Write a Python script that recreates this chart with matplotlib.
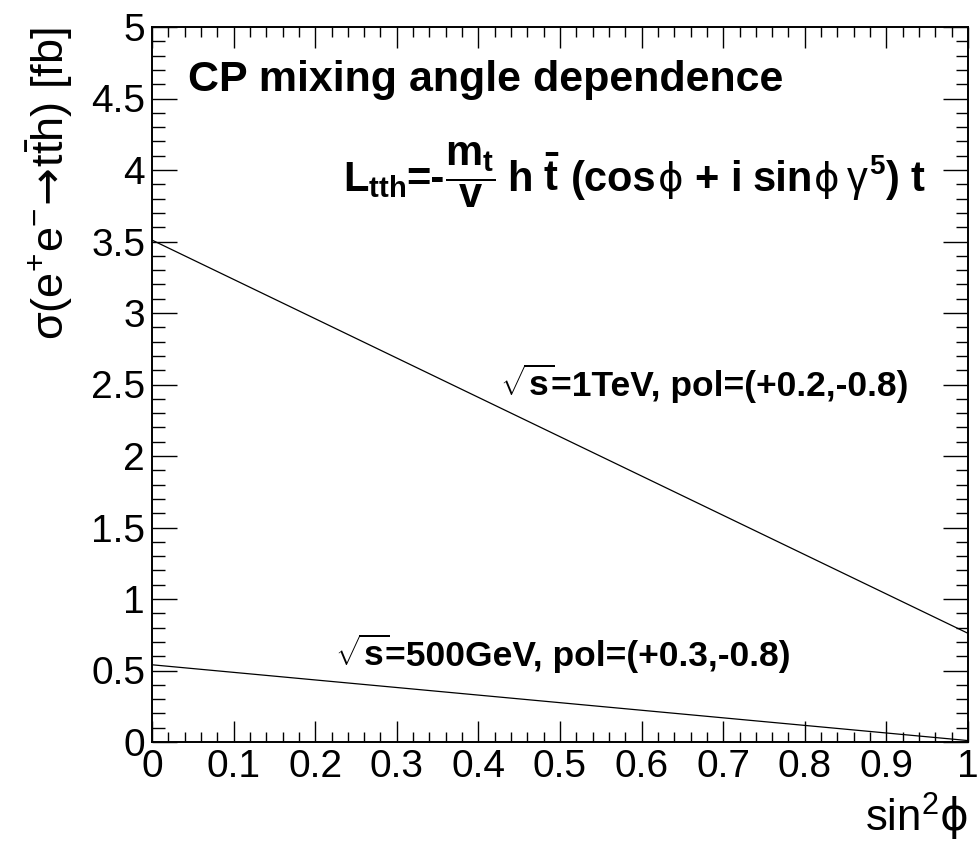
import matplotlib
matplotlib.use("Agg")
import matplotlib.pyplot as plt
from matplotlib.ticker import MultipleLocator
from matplotlib.transforms import IdentityTransform

plt.rcParams["font.family"] = ["Liberation Sans", "DejaVu Sans"]
plt.rcParams["mathtext.fontset"] = "custom"
plt.rcParams["mathtext.rm"] = "Liberation Sans"
plt.rcParams["mathtext.bf"] = "Liberation Sans:bold"
plt.rcParams["mathtext.it"] = "Liberation Sans:italic"
plt.rcParams["mathtext.sf"] = "DejaVu Sans"  # 箭头与 phi 用 DejaVu

# 数据: sin^2(phi) 两端点上的截面 (fb), 线性依赖
sin2phi = [0.0, 1.0]
xsec_1tev = [3.51, 0.76]
xsec_500gev = [0.54, 0.01]

x_ticks = [0, 0.1, 0.2, 0.3, 0.4, 0.5, 0.6, 0.7, 0.8, 0.9, 1]
x_ticklabels = ["0", "0.1", "0.2", "0.3", "0.4", "0.5", "0.6", "0.7", "0.8", "0.9", "1"]
y_ticks = [0, 0.5, 1, 1.5, 2, 2.5, 3, 3.5, 4, 4.5, 5]
y_ticklabels = ["0", "0.5", "1", "1.5", "2", "2.5", "3", "3.5", "4", "4.5", "5"]

fig = plt.figure(figsize=(9.77, 8.56), dpi=100)
ax = fig.add_axes([152 / 977, 114 / 856, 816 / 977, 715 / 856])

ax.plot(sin2phi, xsec_1tev, color="black", linewidth=0.9)
ax.plot(sin2phi, xsec_500gev, color="black", linewidth=0.9)

ax.set_xlim(0, 1)
ax.set_ylim(0, 5)
ax.set_xticks(x_ticks)
ax.set_xticklabels(x_ticklabels)
ax.set_yticks(y_ticks)
ax.set_yticklabels(y_ticklabels)
ax.xaxis.set_minor_locator(MultipleLocator(0.02))
ax.yaxis.set_minor_locator(MultipleLocator(0.1))

ax.tick_params(axis="both", which="both", direction="in", top=True, right=True,
               labelsize=28, width=1.0, colors="black")
ax.tick_params(axis="x", which="major", length=15, pad=5)
ax.tick_params(axis="x", which="minor", length=7.5)
ax.tick_params(axis="y", which="major", length=18, pad=5)
ax.tick_params(axis="y", which="minor", length=9)
for spine in ax.spines.values():
    spine.set_linewidth(1.4)

# 坐标轴标题 (ROOT 风格, 右/上对齐)
fig.text(50 / 977, 1 - 27 / 856,
         r"$\mathrm{σ(e^{+}e^{-}}\!\mathsf{\rightarrow}\!\mathrm{t\bar{t}h)\ [fb]}$",
         rotation=90, ha="center", va="top", fontsize=32.5)
fig.text(968 / 977, 1 - 832 / 856, r"$\mathrm{sin^{2}}\mathsf{ϕ}$",
         ha="right", va="baseline", fontsize=31.5)


def chain_text(x, y, pieces, size):
    """按基线依次拼接文字片段 (像素坐标)"""
    renderer = fig.canvas.get_renderer()
    px, py = ax.transData.transform((x, y))
    for s, kw in pieces:
        opts = dict(fontsize=size, fontweight="bold")
        opts.update(kw)
        dy = opts.pop("dy", 0)
        gap = opts.pop("gap", 0)
        t = ax.text(px, py + dy, s, transform=IdentityTransform(),
                    ha="left", va="baseline", **opts)
        px += t.get_window_extent(renderer).width + gap


ax.text(0.044, 4.55, "CP mixing angle dependence", fontsize=31,
        fontweight="bold", va="baseline", ha="left")

sp = 11
phi = dict(family=["DejaVu Sans"], fontweight="normal", fontsize=28)
chain_text(0.234, 3.85, [
    (r"$\mathbf{L_{tth}}$", {}),
    ("=-", {"gap": 1}),
    (r"$\dfrac{\mathbf{m_t}}{\mathbf{v}}$", {"gap": sp}),
    ("h", {"gap": sp}),
    (r"$\mathbf{\bar{t}}$", {"gap": sp}),
    ("(cos", {"gap": 1}),
    ("ϕ", dict(phi, gap=sp)),
    ("+", {"gap": sp}),
    ("i", {"gap": sp}),
    ("sin", {"gap": 1}),
    ("ϕ", dict(phi, gap=7)),
    ("γ", {"fontweight": "normal", "gap": 2}),
    ("5", {"fontsize": 20, "dy": 17, "gap": 1}),
    (")", {"gap": sp}),
    ("t", {}),
], 30)

chain_text(0.427, 2.42, [
    (r"$\mathbf{\sqrt{s}}$", {"gap": -4}),
    ("=1TeV, pol=(+0.2,-0.8)", {}),
], 25.5)
chain_text(0.224, 0.53, [
    (r"$\mathbf{\sqrt{s}}$", {"gap": -4}),
    ("=500GeV, pol=(+0.3,-0.8)", {}),
], 25.5)

fig.savefig("out.png", dpi=100)
